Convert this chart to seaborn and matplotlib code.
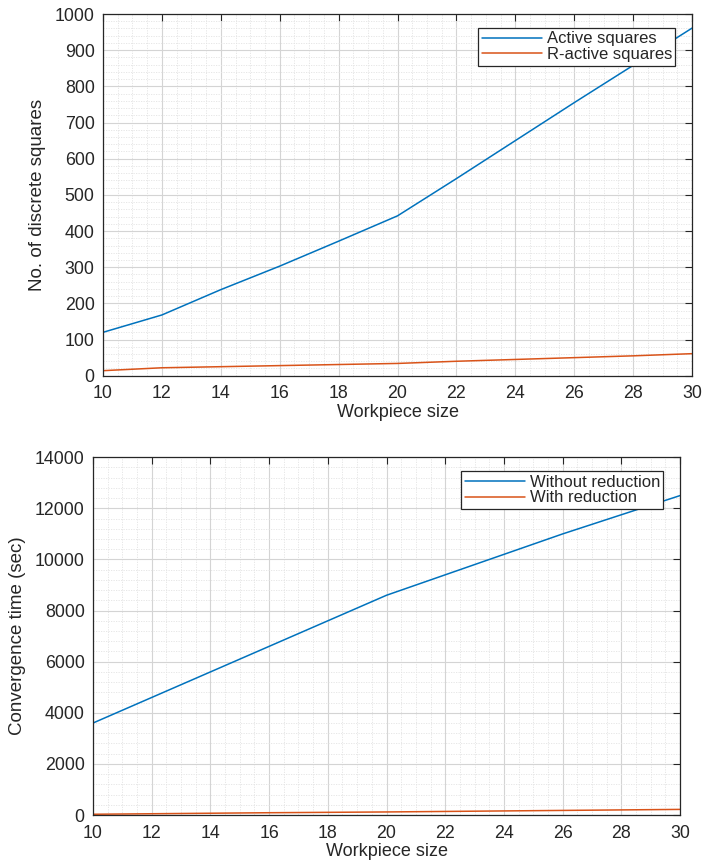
import matplotlib
matplotlib.use("Agg")
import matplotlib.pyplot as plt
import seaborn as sns
import pandas as pd
from matplotlib.ticker import MultipleLocator, AutoMinorLocator

# ---- data ----
workpiece_size = [10, 12, 14, 16, 18, 20, 22, 24, 26, 28, 30]
active_squares = [120, 168, 238, 303, 372, 442, 545, 650, 755, 858, 961]
r_active_squares = [14, 22, 25, 28, 31, 34, 40, 45, 50, 55, 61]
time_without_reduction = [3600, 4600, 5600, 6600, 7600, 8600, 9400, 10200, 11000, 11750, 12500]
time_with_reduction = [30, 50, 70, 90, 105, 120, 140, 160, 180, 200, 220]

top_labels = ["Active squares", "R-active squares"]
bottom_labels = ["Without reduction", "With reduction"]
x_label = "Workpiece size"
top_ylabel = "No. of discrete squares"
bottom_ylabel = "Convergence time (sec)"

sns.set_style("white")
plt.rcParams['font.family'] = ['Liberation Sans', 'DejaVu Sans']

colors = ["#0072BD", "#D95319"]

df_top = pd.DataFrame({
    "x": workpiece_size * 2,
    "y": active_squares + r_active_squares,
    "series": [top_labels[0]] * len(workpiece_size) + [top_labels[1]] * len(workpiece_size),
})
df_bot = pd.DataFrame({
    "x": workpiece_size * 2,
    "y": time_without_reduction + time_with_reduction,
    "series": [bottom_labels[0]] * len(workpiece_size) + [bottom_labels[1]] * len(workpiece_size),
})

fig = plt.figure(figsize=(7.03, 8.60), dpi=100)
ax1 = fig.add_axes([0.1465, 0.5631, 0.8379, 0.4206])
ax2 = fig.add_axes([0.1323, 0.0523, 0.8350, 0.4160])


def style(ax, ymax, ymajor, ylabel, legend_bbox):
    ax.set_xlim(10, 30)
    ax.set_ylim(0, ymax)
    ax.xaxis.set_major_locator(MultipleLocator(2))
    ax.xaxis.set_minor_locator(AutoMinorLocator(4))
    ax.yaxis.set_major_locator(MultipleLocator(ymajor))
    ax.yaxis.set_minor_locator(AutoMinorLocator(5))
    ax.grid(True, which="major", color="#d4d4d4", linewidth=0.8, linestyle="-")
    ax.grid(True, which="minor", color="#e3e3e3", linewidth=0.6, linestyle=(0, (1.5, 1.5)))
    ax.set_axisbelow(True)
    ax.tick_params(axis="x", which="major", pad=7)
    ax.tick_params(axis="y", which="major", pad=6)
    ax.tick_params(which="major", direction="in", length=5, width=0.8, top=True, right=True,
                   labelsize=12.8, labelcolor="#262626", color="#262626")
    ax.tick_params(which="minor", length=0)
    for s in ax.spines.values():
        s.set_color("#262626")
        s.set_linewidth(0.9)
    ax.set_xlabel(x_label, fontsize=13, color="#262626", labelpad=1)
    ax.set_ylabel(ylabel, fontsize=13.5, color="#262626", labelpad=6)
    leg = ax.legend(loc="upper right", bbox_to_anchor=legend_bbox, frameon=True, fancybox=False,
                    edgecolor="#262626", fontsize=12, handlelength=3.6, handletextpad=0.3,
                    borderpad=0.2, labelspacing=0.05, borderaxespad=0.3)
    leg.get_frame().set_linewidth(0.9)
    leg.get_frame().set_alpha(1.0)


sns.lineplot(data=df_top, x="x", y="y", hue="series", palette=colors, ax=ax1, linewidth=1.1)
style(ax1, 1000, 100, top_ylabel, (0.98, 0.975))

sns.lineplot(data=df_bot, x="x", y="y", hue="series", palette=colors, ax=ax2, linewidth=1.1)
style(ax2, 14000, 2000, bottom_ylabel, (0.98, 0.975))

fig.savefig("out.png", dpi=100)
